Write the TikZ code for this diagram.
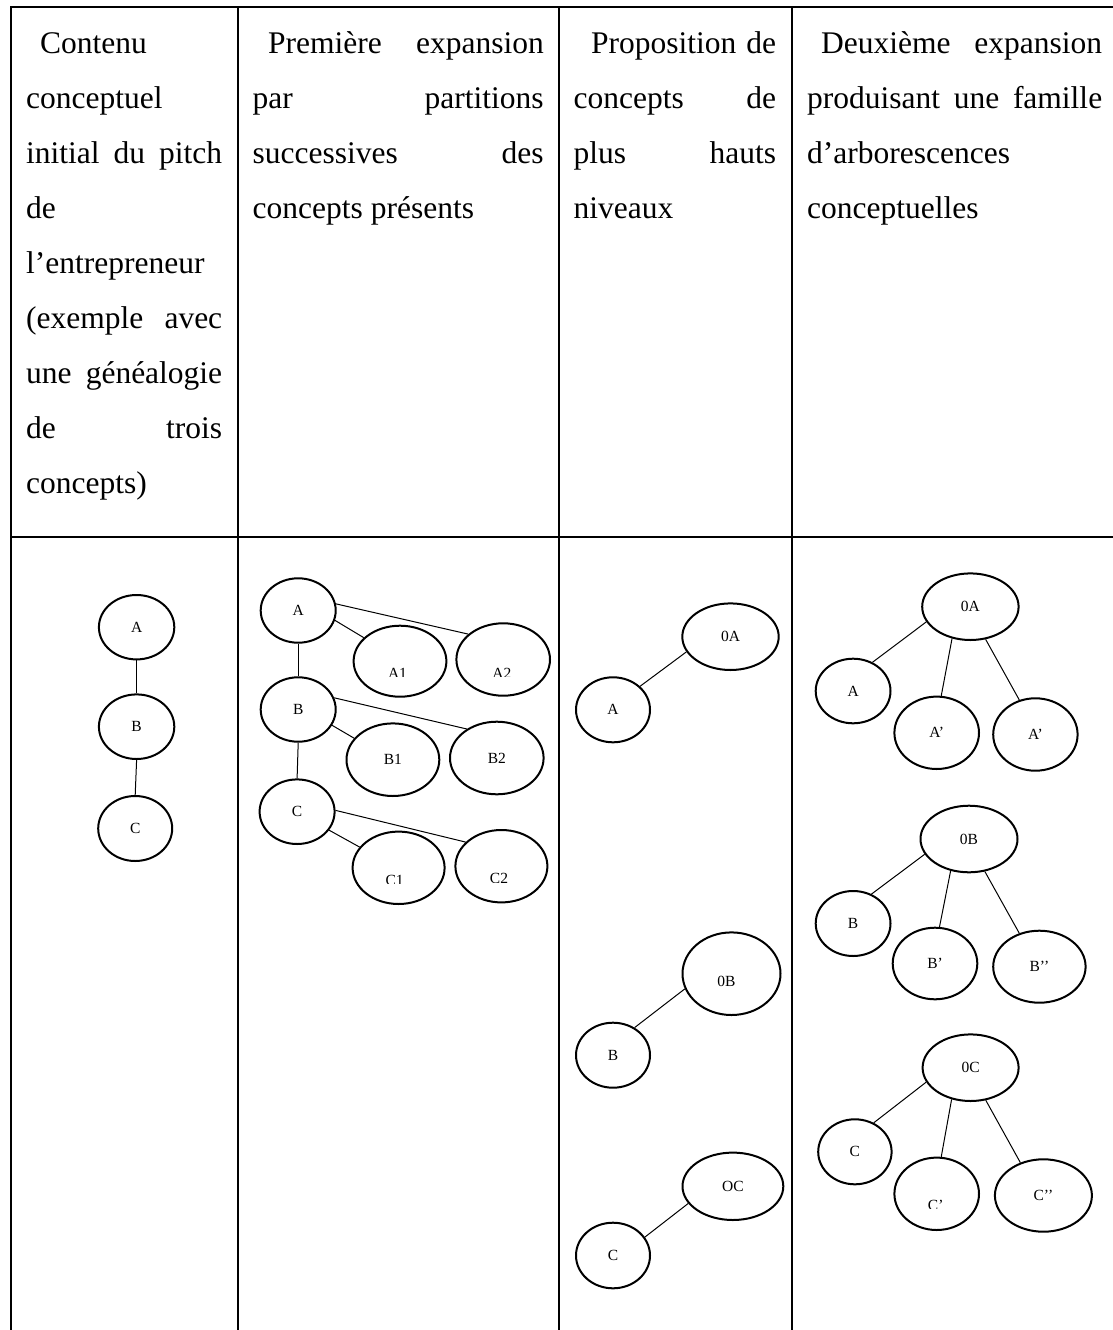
\documentclass[tikz,border=0pt]{standalone}
\usepackage{fontspec}
\setmainfont{Liberation Serif}
\usetikzlibrary{shapes.geometric}
\newcommand\hdrfont{\fontsize{31.5}{38}\selectfont}
\newcommand\lblfont{\fontsize{15.5}{18}\selectfont}
\begin{document}
\begin{tikzpicture}[x=1pt,y=-1pt,
  grid/.style={line width=1.8pt, line cap=rect},
  hdr/.style={anchor=base west, inner sep=0pt, font=\hdrfont},
  lbl/.style={inner sep=0pt, font=\lblfont},
  ell/.style 2 args={ellipse, draw, line width=2pt, minimum width=#1, minimum height=#2, inner sep=0pt, font=\lblfont},
  link/.style={line width=1pt}]
\useasboundingbox (0,0) rectangle (1113,1330);
\fill[white] (0,0) rectangle (1113,1330);
% table
\draw[grid] (11,7) -- (1113,7);
\draw[grid] (11,537) -- (1113,537);
\foreach \x in {11,238,559,792} \draw[grid] (\x,7) -- (\x,1330);
% header col 1
\node[hdr] (h11) at (40,53) {Contenu};
\node[hdr] (h12) at (26,108) {conceptuel};
\node[hdr] (h13) at (26,163) {\makebox[196pt][s]{initial du pitch}};
\node[hdr] (h14) at (26,218) {de};
\node[hdr] (h15) at (26,273) {l’entrepreneur};
\node[hdr] (h16) at (26,328) {\makebox[196pt][s]{(exemple avec}};
\node[hdr] (h17) at (26,383) {\makebox[196pt][s]{une généalogie}};
\node[hdr] (h18) at (26,438) {\makebox[196pt][s]{de trois}};
\node[hdr] (h19) at (26,493) {concepts)};
% header col 2
\node[hdr] (h21) at (268,53) {\makebox[275.6pt][s]{Première expansion}};
\node[hdr] (h22) at (252.5,108) {\makebox[291pt][s]{par partitions}};
\node[hdr] (h23) at (252.5,163) {\makebox[291pt][s]{successives des}};
\node[hdr] (h24) at (252.5,218) {concepts présents};
% header col 3
\node[hdr] (h31) at (591,53) {\makebox[185pt][s]{Proposition de}};
\node[hdr] (h32) at (573.4,108) {\makebox[202.6pt][s]{concepts de}};
\node[hdr] (h33) at (573.4,163) {\makebox[202.6pt][s]{plus hauts}};
\node[hdr] (h34) at (573.4,218) {niveaux};
% header col 4
\node[hdr] (h41) at (821,53) {\makebox[281pt][s]{Deuxième expansion}};
\node[hdr] (h42) at (807,108) {\makebox[295pt][s]{produisant une famille}};
\node[hdr] (h43) at (807,163) {d’arborescences};
\node[hdr] (h44) at (807,218) {conceptuelles};
% column 1
\node[ell={75.4}{64.4}] (a1) at (136.6,627.2) {A};
\node[ell={75.4}{64.6}] (b1) at (136.6,726.7) {B};
\node[ell={74}{65}] (c1) at (135.2,828.5) {C};
\draw[link] (a1.south) -- (b1.north);
\draw[link] (b1.south) -- (c1.north);
% column 2
\node[ell={75}{64.4}] (a2) at (298.2,610.5) {A};
\node[ell={92.8}{71}] (a2x) at (400,661.2) {};
\node[ell={93.6}{72.4}] (a2y) at (503.2,659.5) {};
\node[ell={75}{64.4}] (b2) at (298.2,709.5) {B};
\node[ell={92.8}{72.6}] (b2x) at (392.9,759.7) {B1};
\node[ell={93.6}{72.6}] (b2y) at (496.8,758) {B2};
\node[ell={75}{64.6}] (c2) at (297.1,811.7) {C};
\node[ell={92}{72.4}] (c2x) at (398.6,867.8) {};
\node[ell={92}{72.4}] (c2y) at (501.4,866.2) {};
\begin{scope}\clip (350,650) rectangle (450,676.7);
\node[lbl, anchor=base] (ta2x) at (397.5,678.3) {A1};\end{scope}
\begin{scope}\clip (455,650) rectangle (550,676.7);
\node[lbl, anchor=base] (ta2y) at (501.8,678.3) {A2};\end{scope}
\begin{scope}\clip (350,860) rectangle (450,883.3);
\node[lbl, anchor=base] (tc2x) at (394.6,885.3) {C1};\end{scope}
\begin{scope}\clip (455,860) rectangle (550,882.7);
\node[lbl, anchor=base] (tc2y) at (499,883.6) {C2};\end{scope}
\draw[link] (a2.south) -- (b2.north);
\draw[link] (b2.south) -- (c2.north);
\draw[link] (a2.345.4) -- (a2x.147);
\draw[link] (a2.10.9) -- (a2y.144);
\draw[link] (b2.335.4) -- (b2x.151.1);
\draw[link] (b2.18.9) -- (b2y.136.7);
\draw[link] (c2.330.8) -- (c2x.152);
\draw[link] (c2.2.6) -- (c2y.146.3);
% column 3
\node[ell={96.4}{66.6}] (oa3) at (730.5,636.7) {0A};
\node[ell={74}{65}] (a3) at (613,709.8) {A};
\node[ell={98}{82.6}, label={[lbl, xshift=-5pt, yshift=-8pt]center:0B}] (ob3) at (731.5,973.7) {};
\node[ell={74}{65}] (b3) at (613,1055.2) {B};
\node[ell={100.8}{67.4}] (oc3) at (732.9,1186.3) {OC};
\node[ell={74}{65.6}] (c3) at (613,1255.5) {C};
\draw[link] (a3.41) -- (oa3.199.7);
\draw[link] (b3.52.2) -- (ob3.198.6);
\draw[link] (c3.30.7) -- (oc3.201.8);
% column 4
\node[ell={96.4}{66.6}] (oa4) at (970.4,606.7) {0A};
\node[ell={74.8}{64.6}] (a4) at (853.1,691) {A};
\node[ell={84.6}{72.4}] (ap4) at (936.7,732.8) {A’};
\node[ell={84.4}{72.4}] (app4) at (1035.4,734.5) {A’};
\node[ell={97}{66.6}] (ob4) at (969,839) {0B};
\node[ell={74.8}{65}] (b4) at (853.1,923.5) {B};
\node[ell={84.6}{71.6}] (bp4) at (935,963.5) {B’};
\node[ell={92.4}{72}] (bpp4) at (1039.4,966.7) {B’’};
\node[ell={96}{66.6}] (oc4) at (970.6,1067.7) {0C};
\node[ell={73.4}{65}] (c4) at (854.9,1151.8) {C};
\node[ell={84.6}{72.4}] (cp4) at (936.7,1193.8) {};
\node[ell={97}{72.4}] (cpp4) at (1043.4,1195.5) {C’’};
\begin{scope}\clip (900,1180) rectangle (975,1208);
\node[lbl, anchor=base] (tcp4) at (935.7,1210.3) {C’};\end{scope}
\draw[link] (oa4.199.3) -- (a4.56.9);
\draw[link] (oa4.240.1) -- (ap4.83.2);
\draw[link] (oa4.295.9) -- (app4.115);
\draw[link] (ob4.199.2) -- (b4.58.2);
\draw[link] (ob4.240.4) -- (bp4.83.5);
\draw[link] (ob4.296) -- (bpp4.121.5);
\draw[link] (oc4.198.6) -- (c4.57.8);
\draw[link] (oc4.239.8) -- (cp4.83.1);
\draw[link] (oc4.295.6) -- (cpp4.125.7);
\end{tikzpicture}
\end{document}
